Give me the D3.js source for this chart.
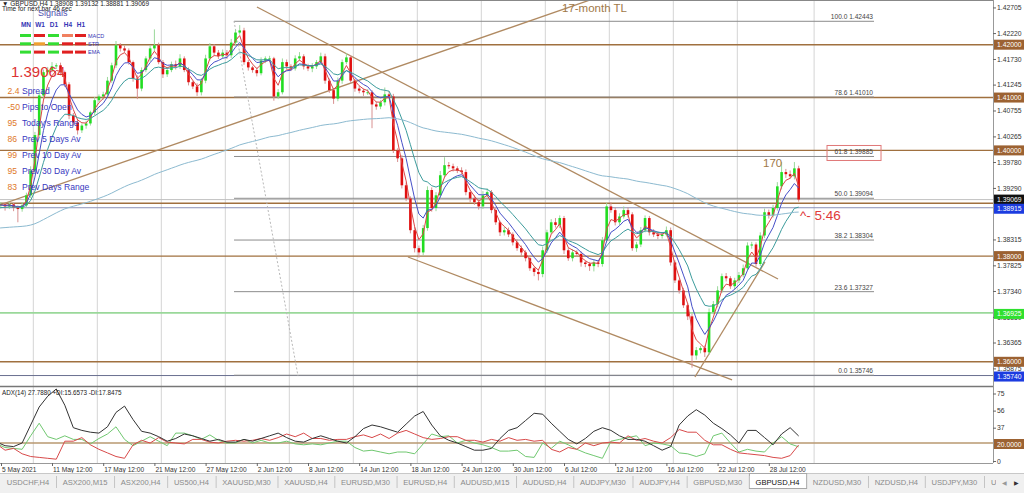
<!DOCTYPE html>
<html><head><meta charset="utf-8">
<script src="https://cdn.jsdelivr.net/npm/d3@7"></script>
<style>body{margin:0;background:#fff;overflow:hidden}svg{display:block;font-family:"Liberation Sans",Arial,sans-serif}</style>
</head><body><svg id="c" width="1024" height="493"></svg>
<script>
// ---------- DATA ----------
// 8-hour bars (3 per trading day) from 5 May 2021
const firstOpen = 1.3898;
const closes = [
1.3896,1.3898,1.3894,1.3898,1.3892,1.3889,1.3896,1.3915,1.3962,1.4029,
1.4104,1.4148,1.4152,1.4159,1.4161,1.4148,1.4125,1.4066,1.4053,1.4038,
1.4047,1.4051,1.4072,1.4095,1.4102,1.4106,1.4132,1.4161,1.4199,1.4193,
1.4189,1.4167,1.4136,1.4117,1.4152,1.4174,1.4193,1.4199,1.4167,1.4144,
1.4152,1.4163,1.4159,1.4174,1.4152,1.4129,1.4121,1.4110,1.4132,1.4174,
1.4197,1.4185,1.4178,1.4185,1.4180,1.4204,1.4223,1.4227,1.4167,1.4157,
1.4152,1.4146,1.4170,1.4174,1.4174,1.4102,1.4110,1.4167,1.4159,1.4155,
1.4174,1.4178,1.4159,1.4155,1.4159,1.4167,1.4178,1.4132,1.4114,1.4098,
1.4132,1.4167,1.4176,1.4132,1.4117,1.4113,1.4110,1.4110,1.4087,1.4083,
1.4091,1.4106,1.4102,1.4000,1.3985,1.3934,1.3909,1.3849,1.3815,1.3807,
1.3853,1.3925,1.3891,1.3915,1.3953,1.3972,1.3970,1.3966,1.3962,1.3959,
1.3921,1.3909,1.3902,1.3894,1.3915,1.3921,1.3887,1.3864,1.3845,1.3849,
1.3841,1.3826,1.3815,1.3807,1.3796,1.3777,1.3770,1.3766,1.3811,1.3845,
1.3864,1.3859,1.3872,1.3811,1.3796,1.3807,1.3804,1.3788,1.3785,1.3781,
1.3788,1.3785,1.3830,1.3894,1.3887,1.3864,1.3875,1.3887,1.3879,1.3815,
1.3822,1.3849,1.3872,1.3845,1.3841,1.3838,1.3841,1.3849,1.3788,1.3754,
1.3735,1.3707,1.3686,1.3612,1.3622,1.3626,1.3618,1.3694,1.3709,1.3735,
1.3762,1.3758,1.3743,1.3754,1.3764,1.3777,1.3820,1.3822,1.3785,1.3839,
1.3883,1.3877,1.3891,1.3932,1.3959,1.3955,1.3951,1.3966,1.3907];
// wick lengths in pips above / below the candle body
const upWick = [
3,4,2,5,3,4,6,5,8,6, 7,5,6,8,4,5,3,4,5,6,
4,5,3,6,4,5,7,5,8,4, 5,4,3,6,5,4,6,30,5,4,
6,5,7,8,4,5,3,6,5,7, 6,4,5,6,5,7,6,10,5,4,
3,5,6,4,5,3,6,7,5,4, 6,8,4,5,6,4,7,5,4,3,
6,5,8,4,3,5,4,6,4,5, 4,13,6,5,4,6,5,4,6,5,
6,7,5,6,8,15,6,5,4,6, 5,4,6,5,8,7,4,5,3,6,
5,4,6,5,4,5,3,6,7,5, 6,8,5,4,5,6,4,5,3,4,
5,4,6,7,8,5,6,7,5,4, 5,6,5,4,6,5,4,7,5,4,
3,5,4,5,6,4,5,7,6,8, 5,6,4,5,6,7,6,5,4,6,
7,5,6,8,19,6,7,12,5];
const dnWick = [
4,6,8,5,7,25,5,4,5,6, 4,5,6,4,5,6,5,7,6,8,
5,6,4,5,4,6,5,4,5,6, 4,5,6,20,5,4,6,5,4,7,
5,4,6,5,4,6,5,7,6,5, 4,6,5,4,7,5,6,4,5,6,
5,6,4,5,6,8,5,4,6,5, 4,5,6,5,7,5,4,6,5,10,
5,6,4,5,6,5,7,5,45,6, 5,6,4,5,7,6,5,6,8,10,
6,5,7,6,5,4,5,6,5,4, 6,7,5,6,5,4,6,5,7,6,
5,6,5,7,6,5,8,12,6,5, 4,5,6,7,5,6,5,8,6,9,
10,6,5,4,5,6,5,4,6,5, 7,5,4,6,5,6,5,4,6,5,
6,5,7,23,8,6,9,5,4,6, 5,6,5,7,5,4,5,6,5,4,
5,6,4,5,6,7,5,6,4];
// moving averages (periods in 8h bars) and their starting levels
const emaPeriods = [3, 6, 13, 133];
const emaSeeds   = [1.3897, 1.3896, 1.3890, 1.3852];
// ADX(14), +DI, -DI sampled every 2 bars
const adxVals = [21,17,16,20,40,60,72,80,62,37,34,32,31,38,54,61,46,33,31,27,
22,25,30,28,25,22,24,21,21,24,22,25,28,31,26,22,21,25,28,25,
22,20,27,36,40,38,35,32,41,50,55,40,28,23,20,16,12,12,14,25,
34,37,45,53,52,42,33,24,19,25,33,37,34,28,24,24,22,17,12,16,
40,50,57,51,42,36,29,20,34,34,26,18,30,37,27.8];
const plusDI = [19,15,14,13,28,42,27,24,28,24,24,19,25,30,38,24,17,22,27,22,
17,31,31,28,24,29,23,20,20,24,20,23,20,20,22,19,18,19,18,20,
22,22,15,11,12,10,8,10,10,8,19,30,27,28,20,23,20,18,15,11,
11,12,5,4,20,14,22,18,13,9,6,3,22,24,26,28,17,20,19,17,
9,8,5,8,28,31,20,10,13,11,10,20,27,19,15.7];
const minusDI = [19,12,14,8,5,4,3,2,22,22,26,18,13,9,5,3,18,23,20,26,
21,20,19,24,24,21,20,22,23,22,23,25,23,26,30,27,31,25,25,23,
24,24,27,29,26,30,25,31,34,30,26,24,25,27,27,23,23,21,24,22,
26,23,24,22,23,13,10,15,13,20,17,20,21,20,28,23,25,22,20,26,
35,32,32,23,18,18,13,9,8,7,6,4,3,6,17.8];
const adxStep = 2;

const priceTicks = [1.42705,1.42220,1.41730,1.41245,1.40755,1.40265,1.39780,1.39290,1.38315,1.37825,1.37340,1.36850,1.36365,1.35875];
const srLevels = [1.42, 1.41, 1.40, 1.39, 1.38, 1.36];
const fibLevels = [100.0, 78.6, 61.8, 50.0, 38.2, 23.6, 0.0];
const fibPrices = [1.42443, 1.41010, 1.39885, 1.39094, 1.38304, 1.37327, 1.35746];
const fibSpanDays = [18.72, 68.72];
const bidPrice = 1.39069, lowMark = 1.35740, blueMark = 1.38915, greenMark = 1.36925;
// trend lines: [day0, price0, day1, price1]
const trendLines = [
  [0.44, 1.38967, 46.53, 1.42846],
  [20.51, 1.42713, 61.22, 1.37567],
  [32.31, 1.37983, 57.63, 1.35656],
  [54.73, 1.35713, 60.20, 1.37889]];
const fibDiagonal = [18.72, 1.42448, 23.72, 1.35730];
const weekStarts = [3,8,13,18,23,28,33,38,43,48,53,58,64];
const dateDays = [0,4.5,8.5,12.5,16.5,20.5,24.5,28.5,32.5,36.5,40.5,44.5,48.5,52.5,56.5,60.5];
const dateLabels = ["5 May 2021","11 May 12:00","17 May 12:00","21 May 12:00","27 May 12:00","2 Jun 12:00","8 Jun 12:00","14 Jun 12:00","18 Jun 12:00","24 Jun 12:00","30 Jun 12:00","6 Jul 12:00","12 Jul 12:00","16 Jul 12:00","22 Jul 12:00","28 Jul 12:00"];
const adxTicks = [75,56,37,0];
const tabs = ["USDCHF,H4","ASX200,M15","ASX200,H4","US500,H4","XAUUSD,M30","XAUUSD,H4","EURUSD,M30","EURUSD,H4","AUDUSD,M15","AUDUSD,H4","AUDJPY,M30","AUDJPY,H4","GBPUSD,M30","GBPUSD,H4","NZDUSD,M30","NZDUSD,H4","USDJPY,M30","USDJPY,H4"];
const activeTab = "GBPUSD,H4";
const statNums = ["2.4","-50","95","86","99","95","83"];
const statNames = ["Spread","Pips to Open","Today's Range","Prev 5 Days Av","Prev 10 Day Av","Prev 30 Day Av","Prev Days Range"];
const sigCols = ["MN","W1","D1","H4","H1"];
const sigRows = ["MACD","STR","EMA"];
const sigColors = [
  ["#33dd33","#e02020","#33dd33","#f08060","#e02020"],
  ["#33dd33","#f0a030","#33dd33","#e02020","#e02020"],
  ["#33dd33","#e02020","#33dd33","#e02020","#e02020"]];

// ---------- LAYOUT ----------
const plotR = 993, mainTop = 1, mainBot = 386, adxTop = 387, adxBot = 463;
const svg = d3.select("#c");
const x = d3.scaleLinear().domain([0, 64]).range([-5.6, 813.6]);
const y = d3.scaleLinear().domain([1.36, 1.42]).range([361.8, 44.7]);
const ay = d3.scaleLinear().domain([0, 100]).range([461, 371]);
const bx = i => x((i + 0.5) / 3);

const defs = svg.append("defs");
defs.append("clipPath").attr("id","cm").append("rect").attr("x",0).attr("y",mainTop).attr("width",plotR).attr("height",mainBot-mainTop);
defs.append("clipPath").attr("id","ca").append("rect").attr("x",0).attr("y",adxTop).attr("width",plotR).attr("height",adxBot-adxTop);
defs.append("clipPath").attr("id","ct").append("rect").attr("x",0).attr("y",470).attr("width",996).attr("height",23);

svg.append("rect").attr("width",1024).attr("height",493).attr("fill","#fff");

// week grid
const grid = svg.append("g");
weekStarts.forEach(d => {
  grid.append("line").attr("x1",x(d)+0.5).attr("x2",x(d)+0.5).attr("y1",mainTop).attr("y2",adxBot)
    .attr("stroke","#d4d4d4").attr("stroke-width",1);
});

const main = svg.append("g").attr("clip-path","url(#cm)");

// S/R levels
srLevels.forEach(p => main.append("line").attr("x1",0).attr("x2",plotR).attr("y1",y(p)).attr("y2",y(p))
  .attr("stroke","#a0703f").attr("stroke-width",1.4));
main.append("line").attr("x1",0).attr("x2",plotR).attr("y1",y(blueMark)).attr("y2",y(blueMark)).attr("stroke","#8a90b8").attr("stroke-width",1);
main.append("line").attr("x1",0).attr("x2",plotR).attr("y1",y(lowMark)).attr("y2",y(lowMark)).attr("stroke","#6a7090").attr("stroke-width",1);
main.append("line").attr("x1",0).attr("x2",plotR).attr("y1",y(greenMark)).attr("y2",y(greenMark)).attr("stroke","#9ad89a").attr("stroke-width",1.6);
main.append("line").attr("x1",0).attr("x2",plotR).attr("y1",y(bidPrice)).attr("y2",y(bidPrice)).attr("stroke","#c0c0c0").attr("stroke-width",1);

// fibonacci
fibPrices.forEach((p,k) => {
  main.append("line").attr("x1",x(fibSpanDays[0])).attr("x2",x(fibSpanDays[1])).attr("y1",y(p)).attr("y2",y(p))
    .attr("stroke","#8c8c8c").attr("stroke-width",1);
  main.append("text").attr("x",x(fibSpanDays[1])-1).attr("y",y(p)-2).attr("text-anchor","end")
    .attr("font-size","6.6px").attr("fill","#444").text(fibLevels[k].toFixed(1)+"   "+p.toFixed(5));
});
main.append("line").attr("x1",x(fibDiagonal[0])).attr("y1",y(fibDiagonal[1])).attr("x2",x(fibDiagonal[2])).attr("y2",y(fibDiagonal[3]))
  .attr("stroke","#b8b8b8").attr("stroke-width",1).attr("stroke-dasharray","2,2");
// highlight box around 61.8
main.append("rect").attr("x",x(fibSpanDays[1])-47).attr("y",y(fibPrices[2])-11).attr("width",54).attr("height",15)
  .attr("fill","none").attr("stroke","#e07878").attr("stroke-width",1);

// trend lines
trendLines.forEach(t => main.append("line").attr("x1",x(t[0])).attr("y1",y(t[1])).attr("x2",x(t[2])).attr("y2",y(t[3]))
  .attr("stroke","#b08a62").attr("stroke-width",1.3));

// candles
const bars = closes.map((c,i) => {
  const o = i ? closes[i-1] : firstOpen;
  return {i, o, c, hi: Math.max(o,c) + upWick[i]/1e4, lo: Math.min(o,c) - dnWick[i]/1e4};
});
const cg = main.append("g");
cg.selectAll("line").data(bars).join("line")
  .attr("x1",d=>bx(d.i)).attr("x2",d=>bx(d.i)).attr("y1",d=>y(d.hi)).attr("y2",d=>y(d.lo))
  .attr("stroke",d=>d.c>=d.o?"#9bd89b":"#d89090").attr("stroke-width",1);
cg.selectAll("rect").data(bars).join("rect")
  .attr("x",d=>bx(d.i)-1.3).attr("width",2.6)
  .attr("y",d=>y(Math.max(d.o,d.c))).attr("height",d=>Math.max(1,Math.abs(y(d.o)-y(d.c))))
  .attr("fill",d=>d.c>=d.o?"#22dd22":"#e01010");

// EMAs
function ema(vals, n, seed){ const a = 2/(n+1); let e = seed; return vals.map(v => (e = e + a*(v-e))); }
const emaColors = ["#dc4646","#4650c8","#3c9c9c","#8cbad0"];
emaPeriods.forEach((n,k) => {
  const e = ema(closes, n, emaSeeds[k]);
  main.append("path").datum(e).attr("fill","none").attr("stroke",emaColors[k]).attr("stroke-width",1)
    .attr("d", d3.line().x((v,i)=>bx(i)).y(v=>y(v)));
});

// panel borders
svg.append("line").attr("x1",0).attr("x2",plotR).attr("y1",0.5).attr("y2",0.5).attr("stroke","#888");
svg.append("line").attr("x1",0).attr("x2",plotR).attr("y1",mainBot+0.5).attr("y2",mainBot+0.5).attr("stroke","#777").attr("stroke-width",1.6);
svg.append("line").attr("x1",0).attr("x2",plotR).attr("y1",adxBot+0.5).attr("y2",adxBot+0.5).attr("stroke","#999");
svg.append("line").attr("x1",plotR+0.5).attr("x2",plotR+0.5).attr("y1",0).attr("y2",adxBot).attr("stroke","#999");

// right price axis
const pa = svg.append("g").attr("transform",`translate(${plotR},0)`)
  .call(d3.axisRight(y).tickValues(priceTicks).tickSize(3).tickFormat(d3.format(".5f")));
pa.select(".domain").remove();
pa.selectAll("line").attr("stroke","#666");
pa.selectAll("text").attr("font-size","6.8px").attr("fill","#333").attr("font-family","Liberation Sans, Arial").attr("x",4);

function tag(py, label, bg, fg){
  const g = svg.append("g");
  g.append("rect").attr("x",plotR+1).attr("y",py-5).attr("width",30).attr("height",10).attr("fill",bg);
  g.append("text").attr("x",plotR+4).attr("y",py+2.5).attr("font-size","6.8px").attr("fill",fg).text(label);
}
[1.42,1.41,1.40,1.38,1.36].forEach(p => tag(y(p), p.toFixed(5), "#9c6232", "#fff"));
tag(y(1.39)+1, "1.39000", "#9c6232", "#fff");
tag(y(bidPrice), bidPrice.toFixed(5), "#111", "#fff");
tag(y(blueMark)+1, blueMark.toFixed(5), "#1c3ce0", "#fff");
tag(y(greenMark)+1, "1.36925", "#2ee02e", "#fff");
tag(y(lowMark)+1, lowMark.toFixed(5), "#1c3ce0", "#fff");

// ADX panel
const ag = svg.append("g").attr("clip-path","url(#ca)");
ag.append("line").attr("x1",0).attr("x2",plotR).attr("y1",ay(20)).attr("y2",ay(20)).attr("stroke","#b89870").attr("stroke-width",1.3);
[[plusDI,"#70c870"],[minusDI,"#d84a4a"],[adxVals,"#333"]].forEach(([arr,col]) => {
  ag.append("path").datum(arr).attr("fill","none").attr("stroke",col).attr("stroke-width",1)
    .attr("d", d3.line().x((v,k)=>bx(k*adxStep)).y(v=>ay(v)));
});
svg.append("text").attr("x",2).attr("y",adxTop+8).attr("font-size","6.3px").attr("fill","#222")
  .text("ADX(14) 27.7880 +DI:15.6573 -DI:17.8475");
const aa = svg.append("g").attr("transform",`translate(${plotR},0)`)
  .call(d3.axisRight(ay).tickValues(adxTicks).tickSize(3).tickFormat(d3.format("d")));
aa.select(".domain").remove();
aa.selectAll("line").attr("stroke","#666");
aa.selectAll("text").attr("font-size","6.8px").attr("fill","#333").attr("font-family","Liberation Sans, Arial").attr("x",4);
tag(ay(20)+1, "20.0000", "#9c6232", "#fff");

// date axis
dateDays.forEach((d,k) => {
  const px = Math.max(1, x(d));
  svg.append("line").attr("x1",px+0.5).attr("x2",px+0.5).attr("y1",adxBot).attr("y2",adxBot+3).attr("stroke","#666");
  svg.append("text").attr("x",px+1).attr("y",adxBot+8.5).attr("font-size","6.6px").attr("fill","#333").text(dateLabels[k]);
});

// tab bar
const tabEnd = 995;
svg.append("rect").attr("x",0).attr("y",473).attr("width",1024).attr("height",20).attr("fill","#f0f0f0");
svg.append("line").attr("x1",0).attr("x2",1024).attr("y1",473.5).attr("y2",473.5).attr("stroke","#c8c8c8");
const tg = svg.append("g").attr("clip-path","url(#ct)");
const tabTexts = tabs.map(t => tg.append("text").attr("y",485).attr("font-size","7.6px").text(t));
const rawW = tabTexts.map(t => t.node().getComputedTextLength() + 14);
const fitK = 984 / d3.sum(rawW.slice(0, 17));
let tx = 0;
tabs.forEach((t,k) => {
  const w = rawW[k] * fitK;
  const active = t === activeTab;
  if (active) tg.insert("rect","text").attr("x",tx+0.5).attr("y",473.5).attr("width",w).attr("height",15).attr("fill","#fff").attr("stroke","#a8a8a8");
  const tt = tabTexts[k];
  if (tx + w > tabEnd) {
    // tab runs past the scroll arrows: show only the visible start of its caption
    tt.attr("x", tx + 7).attr("text-anchor","start");
    let s = t;
    while (s.length > 1 && tx + 7 + tt.node().getComputedTextLength() > tabEnd - 1) { s = s.slice(0,-1); tt.text(s); }
  } else {
    tt.attr("x",tx + w/2).attr("text-anchor","middle");
  }
  tt.attr("fill",active?"#111":"#8a8a8a");
  if (!active && tx + w <= tabEnd) tg.append("line").attr("x1",tx+w+0.5).attr("x2",tx+w+0.5).attr("y1",476).attr("y2",488).attr("stroke","#c4c4c4");
  tx += w;
});
svg.append("text").attr("x",1002).attr("y",485).attr("font-size","5.5px").attr("fill","#999").text("◀");
svg.append("text").attr("x",1014).attr("y",485).attr("font-size","5.5px").attr("fill","#333").text("▶");

// ---------- overlays ----------
svg.append("text").attr("x",2).attr("y",5.5).attr("font-size","6.5px").attr("fill","#222").text("▼  GBPUSD,H4  1.38908 1.39132 1.38881 1.39069");
svg.append("text").attr("x",2).attr("y",10.5).attr("font-size","6.5px").attr("fill","#222").text("Time for next bar 46 sec");
svg.append("text").attr("x",38).attr("y",16).attr("font-size","9px").attr("fill","#5050b0").text("Signals");
const colX = [26,40,54,68,81];
sigCols.forEach((c,k)=>svg.append("text").attr("x",colX[k]).attr("y",27).attr("text-anchor","middle")
  .attr("font-size","6.5px").attr("font-weight","bold").attr("fill","#3535b5").text(c));
sigRows.forEach((r,j) => {
  sigColors[j].forEach((col,k) => svg.append("rect").attr("x",colX[k]-6).attr("y",34+j*8.3).attr("width",11).attr("height",3).attr("fill",col));
  svg.append("text").attr("x",88).attr("y",37.5+j*8.3).attr("font-size","5.5px").attr("fill","#3535b5").text(r);
});
svg.append("text").attr("x",11).attr("y",77).attr("font-size","15px").attr("fill","#dc3232").text("1.39064");
statNums.forEach((n,k) => {
  const yy = 93.5 + k*16.1;
  svg.append("text").attr("x",7.5).attr("y",yy).attr("font-size","8.6px").attr("fill","#e07828").text(n);
  svg.append("text").attr("x",22).attr("y",yy).attr("font-size","8.6px").attr("fill","#3838c0").text(statNames[k]);
});
svg.append("text").attr("x",562).attr("y",12).attr("font-size","11.5px").attr("fill","#a07848").text("17-month TL");
svg.append("text").attr("x",763).attr("y",167).attr("font-size","11.5px").attr("fill","#a07848").text("170");
svg.append("text").attr("x",800).attr("y",220).attr("font-size","13.5px").attr("fill","#e03a3a").text("^- 5:46");
</script></body></html>
